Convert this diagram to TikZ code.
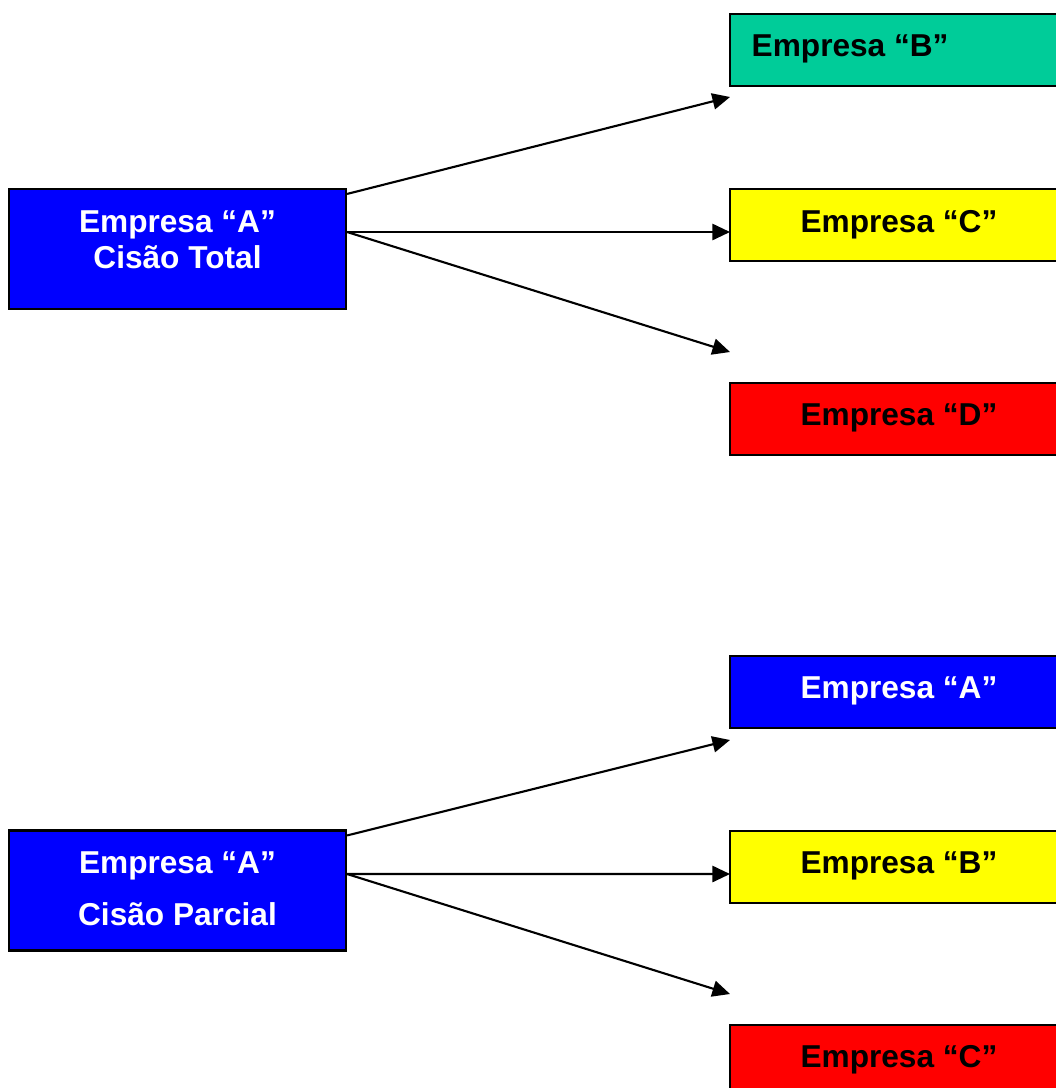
\documentclass[tikz,border=0pt]{standalone}
\usepackage{fontspec}
\setmainfont{Liberation Sans}
\usetikzlibrary{arrows.meta}
\usetikzlibrary{positioning}
\definecolor{azul}{RGB}{0,0,255}
\definecolor{verde}{RGB}{0,204,153}
\definecolor{amarelo}{RGB}{255,255,0}
\definecolor{vermelho}{RGB}{255,0,0}
\tikzset{
  caixa/.style={draw=black, line width=0.6pt, inner sep=0pt,
                minimum width=3.37cm, minimum height=1.2cm},
  filha/.style={draw=black, line width=0.6pt, inner sep=0pt,
                minimum width=3.4cm, minimum height=0.72cm},
  rotulo/.style={font=\fontsize{9}{10.2}\selectfont\bfseries, align=center, inner sep=0pt},
  seta/.style={-{Triangle[length=5pt,width=4.6pt]}, line width=0.6pt},
}

\begin{document}
\begin{tikzpicture}
    \useasboundingbox (0,0) rectangle (10.55,-10.88);

    % cisao total
    \node[caixa, fill=azul] (totalA) at (1.775,-2.49) {};
    \node[rotulo, white] (totalTxt) at (1.775,-2.395) {Empresa “A”\\Cisão Total};

    \node[filha, fill=verde] (totalB) at (9.00,-0.50) {};
    \node[rotulo, anchor=west] (totalBTxt) at (7.51,-0.485) {Empresa “B”};
    \node[filha, fill=amarelo] (totalC) at (9.00,-2.25) {};
    \node[rotulo] (totalCTxt) at (8.99,-2.245) {Empresa “C”};
    \node[filha, fill=vermelho] (totalD) at (9.00,-4.19) {};
    \node[rotulo] (totalDTxt) at (8.99,-4.175) {Empresa “D”};

    \coordinate (fimB) at (7.30,-0.97);
    \coordinate (fimC) at (7.30,-2.32);
    \coordinate (fimD) at (7.30,-3.52);

    \draw[seta] ([yshift=-0.06cm]totalA.north east) -- (fimB);
    \draw[seta] ([yshift=0.17cm]totalA.east) -- (fimC);
    \draw[seta] ([yshift=0.17cm]totalA.east) -- (fimD);

    % cisao parcial
    \node[caixa, fill=azul] (parcialA) at (1.775,-8.905) {};
    \node[rotulo, white, font=\fontsize{9}{14.8}\selectfont\bfseries] (parcialTxt) at (1.775,-8.885) {Empresa “A”\\Cisão Parcial};

    \node[filha, fill=azul] (parcialFA) at (9.00,-6.92) {};
    \node[rotulo, white] (parcialFATxt) at (8.99,-6.905) {Empresa “A”};
    \node[filha, fill=amarelo] (parcialB) at (9.00,-8.67) {};
    \node[rotulo] (parcialBTxt) at (8.99,-8.655) {Empresa “B”};
    \node[filha, fill=vermelho] (parcialC) at (9.00,-10.61) {};
    \node[rotulo] (parcialCTxt) at (8.99,-10.595) {Empresa “C”};

    \coordinate (fimPA) at (7.30,-7.40);
    \coordinate (fimPB) at (7.30,-8.74);
    \coordinate (fimPC) at (7.30,-9.94);

    \draw[seta] ([yshift=-0.06cm]parcialA.north east) -- (fimPA);
    \draw[seta] ([yshift=0.165cm]parcialA.east) -- (fimPB);
    \draw[seta] ([yshift=0.165cm]parcialA.east) -- (fimPC);
\end{tikzpicture}
\end{document}
